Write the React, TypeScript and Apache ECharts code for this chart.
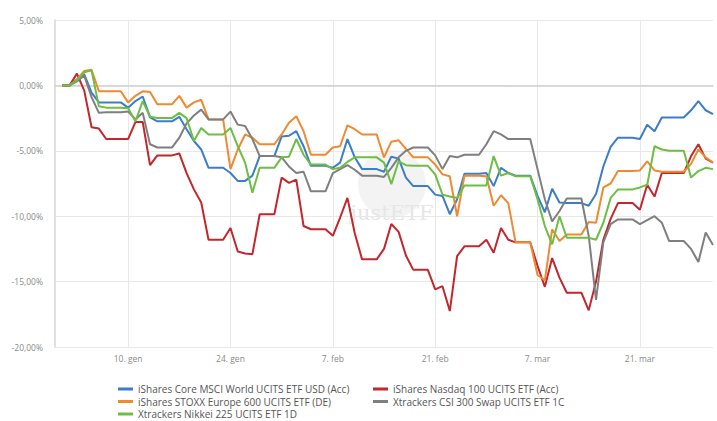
import React, { useEffect, useRef } from "react";
import * as echarts from "echarts";

// ---- data -------------------------------------------------------------
const baseDate = "2022-01-01";
const baseValue = 0;

const tradingDates = [
  "2022-01-03", "2022-01-04", "2022-01-05", "2022-01-06", "2022-01-07",
  "2022-01-10", "2022-01-11", "2022-01-12", "2022-01-13", "2022-01-14",
  "2022-01-17", "2022-01-18", "2022-01-19", "2022-01-20", "2022-01-21",
  "2022-01-24", "2022-01-25", "2022-01-26", "2022-01-27", "2022-01-28",
  "2022-01-31", "2022-02-01", "2022-02-02", "2022-02-03", "2022-02-04",
  "2022-02-07", "2022-02-08", "2022-02-09", "2022-02-10", "2022-02-11",
  "2022-02-14", "2022-02-15", "2022-02-16", "2022-02-17", "2022-02-18",
  "2022-02-21", "2022-02-22", "2022-02-23", "2022-02-24", "2022-02-25",
  "2022-02-28", "2022-03-01", "2022-03-02", "2022-03-03", "2022-03-04",
  "2022-03-07", "2022-03-08", "2022-03-09", "2022-03-10", "2022-03-11",
  "2022-03-14", "2022-03-15", "2022-03-16", "2022-03-17", "2022-03-18",
  "2022-03-21", "2022-03-22", "2022-03-23", "2022-03-24", "2022-03-25",
  "2022-03-28", "2022-03-29", "2022-03-30", "2022-03-31",
];

const msciWorld = [
  0.45, 0.85, -0.55, -1.3, -1.3,
  -1.7, -1.2, -0.85, -2.45, -2.75,
  -2.4, -3.35, -4.25, -4.9, -6.3,
  -6.7, -7.3, -7.3, -6.9, -5.4,
  -3.9, -3.85, -3.5, -4.65, -6.15,
  -6.3, -5.9, -4.1, -5.5, -6.4,
  -6.6, -5.45, -5.6, -7.05, -7.7,
  -8.35, -8.45, -9.85, -8.7, -6.75,
  -6.7, -7.7, -6.3, -6.7, -6.9,
  -8.45, -9.7, -7.9, -8.95, -9.0,
  -9.2, -8.3, -6.2, -4.7, -4.0,
  -4.1, -3.0, -3.5, -2.45, -2.45,
  -1.9, -1.2, -1.9, -2.2,
];

const nasdaq100 = [
  0.9, -0.4, -3.2, -3.3, -4.1,
  -4.1, -2.8, -2.8, -6.1, -5.35,
  -5.2, -6.7, -7.95, -8.95, -11.8,
  -10.9, -12.7, -12.85, -12.9, -9.85,
  -7.05, -7.45, -7.2, -10.75, -11.0,
  -11.5, -10.1, -8.6, -11.3, -13.3,
  -12.5, -10.6, -11.2, -13.0, -14.1,
  -15.6, -15.35, -17.25, -13.05, -12.3,
  -11.8, -12.8, -10.9, -11.8, -12.0,
  -13.8, -15.4, -13.2, -14.7, -15.85,
  -17.2, -15.0, -11.8, -10.2, -9.0,
  -9.5, -7.6, -8.5, -6.7, -6.7,
  -5.4, -4.5, -5.6, -5.9,
];

const stoxx600 = [
  0.45, 1.1, 1.2, -0.45, -0.45,
  -1.3, -0.8, -0.45, -0.5, -1.45,
  -0.8, -1.7, -1.3, -1.1, -2.6,
  -6.4, -4.9, -3.75, -4.0, -4.5,
  -3.75, -2.85, -2.35, -3.5, -5.3,
  -4.75, -4.65, -3.05, -3.35, -3.75,
  -5.5, -4.3, -4.2, -4.85, -5.5,
  -6.05, -6.8, -6.95, -10.0, -6.9,
  -6.95, -9.2, -8.4, -9.0, -12.0,
  -14.5, -14.9, -11.0, -11.9, -11.4,
  -10.45, -10.5, -7.8, -7.5, -6.55,
  -6.5, -5.8, -6.5, -6.6, -6.6,
  -6.0, -4.9, -5.5, -5.9,
];

const csi300 = [
  0.3, 0.75, -0.9, -2.1, -2.05,
  -2.0, -2.6, -2.1, -4.5, -4.75,
  -4.0, -2.9, -2.3, -1.85, -2.6,
  -2.0, -3.0, -3.1, -4.1, -5.4,
  -5.5, -6.2, -6.7, -6.6, -8.1,
  -6.7, -6.4, -6.1, -6.45, -6.9,
  -7.0, -6.3, -5.5, -5.0, -4.75,
  -5.35, -6.4, -5.4, -5.5, -5.3,
  -4.5, -3.5, -3.75, -4.1, -4.1,
  -6.4, -8.7, -10.4, -9.6, -8.65,
  -11.5, -16.4, -12.0, -10.6, -10.25,
  -10.6, -10.3, -10.0, -10.5, -11.9,
  -12.5, -13.5, -11.25, -12.2,
];

const nikkei225 = [
  0.4, 1.0, 1.15, -1.6, -1.7,
  -1.75, -2.75, -1.2, -2.4, -2.5,
  -2.1, -2.5, -4.25, -3.25, -3.75,
  -3.25, -4.65, -5.9, -8.2, -6.3,
  -5.5, -5.45, -4.1, -5.3, -6.05,
  -6.4, -6.3, -5.85, -5.5, -5.5,
  -5.9, -7.55, -5.8, -6.1, -6.15,
  -6.8, -8.35, -8.5, -8.6, -7.65,
  -7.65, -5.4, -6.9, -6.7, -6.95,
  -8.7, -10.75, -12.15, -10.0, -11.65,
  -11.65, -11.8, -10.5, -8.6, -7.95,
  -7.8, -7.6, -4.65, -4.9, -5.0,
  -7.05, -6.55, -6.3, -6.4,
];

const seriesNames = [
  "iShares Core MSCI World UCITS ETF USD (Acc)",
  "iShares Nasdaq 100 UCITS ETF (Acc)",
  "iShares STOXX Europe 600 UCITS ETF (DE)",
  "Xtrackers CSI 300 Swap UCITS ETF 1C",
  "Xtrackers Nikkei 225 UCITS ETF 1D",
];
const seriesValues = [msciWorld, nasdaq100, stoxx600, csi300, nikkei225];
const seriesColors = ["#3b7dc9", "#c1272d", "#ee8a30", "#7f7f7f", "#6dbe45"];

const tickDates = ["2022-01-10", "2022-01-24", "2022-02-07", "2022-02-21", "2022-03-07", "2022-03-21"];
const tickLabels = ["10. gen", "24. gen", "7. feb", "21. feb", "7. mar", "21. mar"];

const axisStart = "2021-12-31";
const axisEnd = "2022-03-31";

// ---- helpers ----------------------------------------------------------
const DAY = 86400000;
function iso(t: number) {
  return new Date(t).toISOString().slice(0, 10);
}
function buildCategories() {
  const out: string[] = [];
  const s = Date.parse(axisStart + "T00:00:00Z");
  const e = Date.parse(axisEnd + "T00:00:00Z");
  for (let t = s; t <= e; t += DAY) out.push(iso(t));
  return out;
}
const categories = buildCategories();

// Calendar-day series: weekends / holidays carry the last trading-day value
function daily(values: number[]) {
  let j = -1;
  return categories.map((d) => {
    if (d < baseDate) return null;
    while (j + 1 < tradingDates.length && tradingDates[j + 1] <= d) j++;
    return j < 0 ? baseValue : values[j];
  });
}

const isTick = (_i: number, v: string) => tickDates.indexOf(v) >= 0;

const legendPos = [
  { left: 118, top: 383 },
  { left: 373, top: 383 },
  { left: 118, top: 395.5 },
  { left: 373, top: 395.5 },
  { left: 118, top: 408 },
];

export default function App() {
  const ref = useRef<HTMLDivElement>(null);
  useEffect(() => {
    document.body.style.margin = "0";
    if (!ref.current) return;
    const chart = echarts.init(ref.current, null, { renderer: "svg" });
    const font = "'Open Sans', 'Noto Sans', sans-serif";
    chart.setOption({
      animation: false,
      backgroundColor: "#ffffff",
      textStyle: { fontFamily: font },
      grid: { left: 55, right: 4, top: 20, bottom: 74, containLabel: false, outerBoundsMode: "none" },
      graphic: [
        {
          type: "circle",
          shape: { cx: 392, cy: 184, r: 34 },
          style: { fill: "#f3f3f3" },
          z: 0,
          silent: true,
        },
        {
          type: "text",
          x: 392,
          y: 213,
          style: {
            text: "justETF",
            fill: "#e6e6e6",
            font: "21px 'DejaVu Serif', serif",
            align: "center",
            verticalAlign: "middle",
          },
          z: 0,
          silent: true,
        },
      ],
      legend: seriesNames.map((name, i) => ({
        data: [name],
        left: legendPos[i].left,
        top: legendPos[i].top,
        icon: "rect",
        itemWidth: 15,
        itemHeight: 3,
        itemGap: 5,
        padding: 0,
        selectedMode: false,
        textStyle: { color: "#555", fontSize: 10, lineHeight: 12, fontFamily: font, padding: [0, 0, 0, 0] },
      })),
      xAxis: {
        type: "category",
        data: categories,
        boundaryGap: false,
        axisLine: { show: true, lineStyle: { color: "#cfcfcf", width: 1.5 } },
        axisTick: { show: false },
        axisLabel: {
          interval: isTick,
          formatter: (v: string) => tickLabels[tickDates.indexOf(v)] ?? "",
          color: "#8a8a8a",
          fontSize: 8.5,
          margin: 7,
          fontFamily: font,
        },
        splitLine: { show: true, interval: isTick, lineStyle: { color: "#e8e8e8", width: 1 } },
      },
      yAxis: {
        type: "value",
        min: -20,
        max: 5,
        interval: 5,
        axisLine: { show: true, lineStyle: { color: "#d6d6d6", width: 1.5 } },
        axisTick: { show: false },
        axisLabel: {
          formatter: (v: number) => v.toFixed(2).replace(".", ",") + "%",
          color: "#8a8a8a",
          fontSize: 8.5,
          margin: 12,
          fontFamily: font,
        },
        splitLine: { show: true, lineStyle: { color: "#e8e8e8", width: 1 } },
      },
      series: seriesNames.map((name, i) => ({
        name,
        type: "line",
        data: daily(seriesValues[i]),
        showSymbol: false,
        symbol: "none",
        color: seriesColors[i],
        lineStyle: { width: 2, color: seriesColors[i] },
        connectNulls: false,
        z: 2 + i,
      })),
    });
    return () => chart.dispose();
  }, []);
  return <div ref={ref} style={{ width: 717, height: 421 }} />;
}
